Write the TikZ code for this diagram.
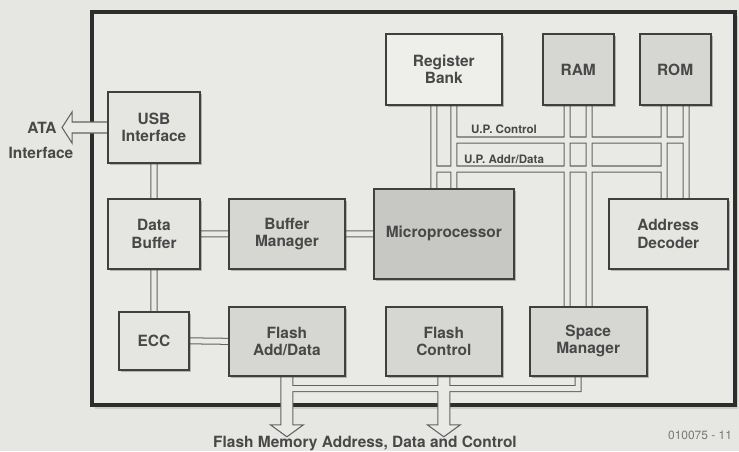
\documentclass[tikz,border=0pt]{standalone}
\usepackage{fontspec}
\setmainfont{TeX Gyre Heros}
\usetikzlibrary{positioning,calc,shadows}

\definecolor{paper}{RGB}{230,230,227}
\definecolor{inside}{RGB}{233,233,230}
\definecolor{boxwhite}{RGB}{238,238,235}
\definecolor{boxlight}{RGB}{229,229,226}
\definecolor{boxmid}{RGB}{214,214,211}
\definecolor{boxdark}{RGB}{199,199,196}
\definecolor{boxline}{RGB}{64,64,64}
\definecolor{frameink}{RGB}{45,45,45}
\definecolor{wire}{RGB}{98,98,98}
\definecolor{ink}{RGB}{72,72,72}

\pgfdeclarelayer{paperlayer}
\pgfdeclarelayer{wires}
\pgfsetlayers{paperlayer,wires,main}

% all bus pipes, drawn twice (outline, then hollow inside)
\newcommand{\buslines}{%
  (usb.south) -- (buf.north)
  (buf.east) -- (bm.west)
  (bm.east) -- (mp.west)
  (buf.south) -- (ecc.north)
  (ecc.east) -- (fad.west)
  (rb1) -- (rb1 |- mp.north)
  (rb2) -- (rb2 |- mp.north)
  (ra1) -- (ra1 |- sm.north)
  (ra2) -- (ra2 |- sm.north)
  (ro1) -- (ro1 |- ad.north)
  (ro2) -- (ro2 |- ad.north)
  (rb2 |- ctl) -- (ro2 |- ctl)
  (rb1 |- adr) -- (ro1 |- adr)
  (sm1) |- (fad.south |- fl)}

\begin{document}
\begin{tikzpicture}[x=0.02cm, y=-0.02cm,
    every node/.style={font=\bfseries\fontsize{8.8}{9.8}\selectfont, text=ink},
    box/.style={draw=boxline, line width=1.1pt, fill=boxlight, align=center,
                minimum width=2.32cm, minimum height=1.4cm, inner sep=1pt,
                drop shadow={shadow xshift=1.3pt, shadow yshift=-1.3pt,
                             opacity=.3, fill=black!80}},
    darkbox/.style={box, fill=boxmid},
    frame/.style={draw=frameink, line width=2.2pt, fill=inside},
    pipeout/.style={draw=wire, line width=4pt},
    pipein/.style={draw=inside, line width=2.85pt},
    hollow/.style={draw=wire, line width=0.6pt, fill=inside},
    note/.style={font=\bfseries\fontsize{6.6}{7}\selectfont}]
  \useasboundingbox (0,0) rectangle (739,451);

  % blocks
  \node[box, minimum width=1.84cm, minimum height=1.42cm] (usb) at (154,127.5) {USB\\Interface};
  \node[box, minimum width=1.84cm, below=0.68cm of usb] (buf) {Data\\Buffer};
  \node[darkbox, right=0.54cm of buf] (bm) {Buffer\\Manager};
  \node[box, fill=boxdark, minimum width=2.8cm, minimum height=1.8cm,
        right=0.54cm of bm] (mp) {Microprocessor};
  \node[box, minimum width=1.4cm, minimum height=1.16cm, below=0.82cm of buf] (ecc) {ECC};
  \node[darkbox, minimum height=1.38cm, below=0.72cm of bm] (fad) {Flash\\Add/Data};
  \node[darkbox, minimum height=1.38cm, below=0.52cm of mp] (fc) {Flash\\Control};
  \node[darkbox, minimum width=2.34cm, minimum height=1.38cm, right=0.52cm of fc] (sm) {Space\\Manager};
  \node[box, fill=boxwhite, minimum height=1.42cm, above=1.64cm of mp] (reg) {Register\\Bank};
  \node[darkbox, minimum width=1.42cm, minimum height=1.42cm, right=0.78cm of reg] (ram) {RAM};
  \node[darkbox, minimum width=1.42cm, minimum height=1.42cm, right=0.48cm of ram] (rom) {ROM};
  \node[box, minimum width=2.38cm, right=1.86cm of mp] (ad) {Address\\Decoder};

  % pipe positions
  \coordinate (rb1) at ($(reg.south)+(-10,0)$);
  \coordinate (rb2) at ($(reg.south)+(10,0)$);
  \coordinate (ra1) at ($(ram.south)+(-11,0)$);
  \coordinate (ra2) at ($(ram.south)+(11,0)$);
  \coordinate (ro1) at ($(rom.south)+(-11,0)$);
  \coordinate (ro2) at ($(rom.south)+(11,0)$);
  \coordinate (sm1) at ($(sm.south)+(-10,0)$);
  \coordinate (ctl) at (0,140);
  \coordinate (adr) at (0,169);
  \coordinate (fl) at (0,388.5);
  \coordinate (ataend) at ($(usb.west)+(-45,0)$);
  \coordinate (out1) at ($(fad.south)+(0,60)$);
  \coordinate (out2) at ($(fc.south)+(0,60)$);

  \node[note] (ctllbl) at (504,129) {U.P. Control};
  \node[note] (adrlbl) at (504,159) {U.P. Addr/Data};
  \node (ata) at (42,128) {ATA};
  \node (atabus) at (41,153) {Interface};
  \node (flashlbl) at (365,443) {Flash Memory Address, Data and Control};
  \node[font=\fontsize{6.8}{7}\selectfont, text=ink!75] (figno) at (700,435) {010075 - 11};

  \begin{pgfonlayer}{paperlayer}
    \fill[paper] (0,0) rectangle (739,451);
    \draw[frame, drop shadow={shadow xshift=1.5pt, shadow yshift=-2pt, opacity=.25}]
      (92,12) rectangle (735,405);
  \end{pgfonlayer}

  \begin{pgfonlayer}{wires}
    \draw[pipeout] \buslines;
    \draw[hollow] ($(usb.west)+(0,-5.5)$) -- ++(-35,0) -- ++(0,-10) -- (ataend)
      -- ++(10,15.5) -- ++(0,-10) -- ($(usb.west)+(0,5.5)$);
    \foreach \src/\tip in {fad/out1, fc/out2}
      \draw[hollow] ($(\src.south)+(-6,0)$) -- ++(0,48) -- ++(-10.5,0) -- (\tip)
        -- ++(16.5,-12) -- ++(-10.5,0) -- ($(\src.south)+(6,0)$);
    \draw[pipein] \buslines;
  \end{pgfonlayer}
\end{tikzpicture}
\end{document}
